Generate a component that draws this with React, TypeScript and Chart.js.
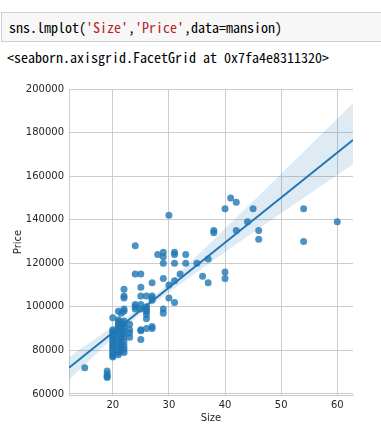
import React, { useEffect, useRef } from "react";
import { Chart, registerables } from "chart.js";

Chart.register(...registerables);

// Scatter data (Size, Price)
const sizes = [
  15,
  19, 19, 19, 19,
  20, 20, 20, 20, 20, 20, 20, 20, 20, 20, 20, 20, 20, 20, 20,
  21, 21, 21, 21, 21, 21, 21, 21, 21, 21, 21, 21, 21, 21, 21,
  21.5, 21.5, 21.5, 21.5, 21.5, 21.5, 21.5, 21.5,
  22, 22, 22, 22, 22, 22, 22, 22, 22, 22, 22, 22, 22, 22, 22,
  23, 23, 23, 23,
  24, 24, 24, 24, 24,
  25, 25, 25, 25, 25, 25, 25, 25,
  26, 26, 26, 26, 26, 26, 26,
  27, 27, 27, 27, 27, 27,
  28,
  29, 29, 29, 29, 29, 29,
  30, 30, 30,
  31, 31, 31, 31, 31,
  32,
  33, 33,
  35,
  36,
  37, 37,
  38, 38,
  40, 40, 40,
  41,
  42, 42,
  44,
  45,
  46, 46,
  54, 54,
  60,
];
const prices = [
  72000,
  70500, 69000, 68000, 67500,
  95000, 89500, 88500, 87500, 86500, 85500, 84500, 83500, 82500, 81500, 80500, 79500, 78500, 77500, 77000,
  98000, 94000, 93000, 92000, 91000, 90000, 89000, 87500, 86000, 84500, 83000, 81500, 80000, 79000, 78000,
  97000, 93000, 91000, 88000, 86000, 84000, 82000, 79500,
  108000, 105000, 104000, 99000, 98000, 93500, 92000, 90500, 89000, 87500, 86000, 84000, 82000, 80500, 79000,
  92000, 89500, 88000, 86000,
  128000, 115000, 101000, 100000, 99000,
  115000, 109000, 105000, 101000, 99000, 89500, 89000, 85000,
  105000, 100000, 99000, 98000, 96500, 94500, 90000,
  111000, 105000, 104000, 103000, 91000, 90000,
  124000,
  125000, 123000, 120000, 113000, 99000, 97000,
  142000, 110000, 104000,
  125000, 124000, 120000, 112000, 102000,
  115000,
  124000, 120000,
  120000,
  114000,
  122000, 111000,
  135000, 134000,
  145000, 116000, 113000,
  150000,
  148000, 135000,
  139000,
  145000,
  135000, 131000,
  145000, 130000,
  139000,
];

// Regression line and confidence band
const regX = [12.2, 62.8];
const regY = [72000, 176600];
const bandX = [12.2, 20, 26, 30, 40, 50, 62.8];
const bandLower = [66500, 85400, 99000, 106600, 125200, 142900, 165500];
const bandUpper = [77000, 90900, 102000, 111000, 135900, 161100, 193500];

const xTicks = [20, 30, 40, 50, 60];
const yTicks = [60000, 80000, 100000, 120000, 140000, 160000, 180000, 200000];

const BLUE = "#1f77b4";
const GRID = "#cccccc";
const TEXT = "#262626";
const FONT = "'DejaVu Sans', sans-serif";

export default function App() {
  const ref = useRef<HTMLCanvasElement>(null);

  useEffect(() => {
    const canvas = ref.current;
    if (!canvas) return;
    const chart = new Chart(canvas, {
      type: "scatter",
      data: {
        datasets: [
          {
            type: "scatter",
            data: sizes.map((s, i) => ({ x: s, y: prices[i] })),
            backgroundColor: "rgba(31,119,180,0.8)",
            borderWidth: 0,
            pointRadius: 3.5,
            pointHoverRadius: 3.5,
            order: 3,
          } as any,
          {
            type: "line",
            data: bandX.map((x, i) => ({ x, y: bandLower[i] })),
            borderWidth: 0,
            borderColor: "rgba(0,0,0,0)",
            pointRadius: 0,
            fill: false,
            cubicInterpolationMode: "monotone",
            order: 2,
          } as any,
          {
            type: "line",
            data: bandX.map((x, i) => ({ x, y: bandUpper[i] })),
            borderWidth: 0,
            borderColor: "rgba(0,0,0,0)",
            backgroundColor: "rgba(31,119,180,0.15)",
            pointRadius: 0,
            fill: "-1",
            cubicInterpolationMode: "monotone",
            order: 2,
          } as any,
          {
            type: "line",
            data: regX.map((x, i) => ({ x, y: regY[i] })),
            borderColor: BLUE,
            borderWidth: 2,
            pointRadius: 0,
            fill: false,
            order: 1,
          } as any,
        ],
      },
      options: {
        responsive: false,
        animation: false,
        devicePixelRatio: 1,
        layout: { padding: { left: 0, top: 19, right: 28, bottom: 0 } },
        plugins: {
          legend: { display: false },
          tooltip: { enabled: false },
        },
        scales: {
          x: {
            type: "linear",
            min: 12.2,
            max: 62.8,
            afterBuildTicks: (s: any) => {
              s.ticks = xTicks.map((v) => ({ value: v }));
            },
            afterFit: (s: any) => {
              s.height = 48;
            },
            grid: { color: GRID, lineWidth: 1, drawTicks: false },
            border: { display: true, color: GRID, width: 1 },
            ticks: {
              autoSkip: false,
              maxRotation: 0,
              padding: 4,
              color: TEXT,
              font: { family: FONT, size: 10 },
            },
            title: {
              display: true,
              text: "Size",
              color: TEXT,
              font: { family: FONT, size: 10 },
              padding: { top: 0, bottom: 19 },
            },
          },
          y: {
            type: "linear",
            min: 59500,
            max: 200000,
            afterBuildTicks: (s: any) => {
              s.ticks = yTicks.map((v) => ({ value: v }));
            },
            afterFit: (s: any) => {
              s.width = 69;
            },
            grid: { color: GRID, lineWidth: 1, drawTicks: false },
            border: { display: true, color: GRID, width: 1 },
            ticks: {
              autoSkip: false,
              padding: 5,
              color: TEXT,
              font: { family: FONT, size: 10 },
              callback: (v: any) => String(v),
            },
            title: {
              display: true,
              text: "Price",
              color: TEXT,
              font: { family: FONT, size: 10 },
              padding: { top: 12, bottom: 0 },
            },
          },
        },
      },
    });
    return () => chart.destroy();
  }, []);

  const mono = "'Noto Sans Mono CJK JP', 'DejaVu Sans Mono', monospace";

  return (
    <div>
      <div
        style={{
          position: "absolute",
          left: 1,
          top: 12,
          width: 380,
          height: 30,
          boxSizing: "border-box",
          background: "#f7f7f7",
          borderTop: "1px solid #cfcfcf",
          borderBottom: "1px solid #cfcfcf",
          borderLeft: "1px solid #cfcfcf",
          fontFamily: mono,
          fontSize: 14,
          lineHeight: "28px",
          paddingLeft: 7,
          whiteSpace: "pre",
          color: "#000",
        }}
      >
        <span>sns.lmplot(</span>
        <span style={{ color: "#BA2121" }}>'Size'</span>
        <span>,</span>
        <span style={{ color: "#BA2121" }}>'Price'</span>
        <span>,data=mansion)</span>
      </div>
      <div
        style={{
          position: "absolute",
          left: 7,
          top: 49,
          fontFamily: mono,
          fontSize: 14,
          lineHeight: "16px",
          whiteSpace: "pre",
          color: "#000",
        }}
      >
        {"<seaborn.axisgrid.FacetGrid at 0x7fa4e8311320>"}
      </div>
      <canvas
        ref={ref}
        width={381}
        height={373}
        style={{ position: "absolute", left: 0, top: 70, width: 381, height: 373 }}
      />
    </div>
  );
}
